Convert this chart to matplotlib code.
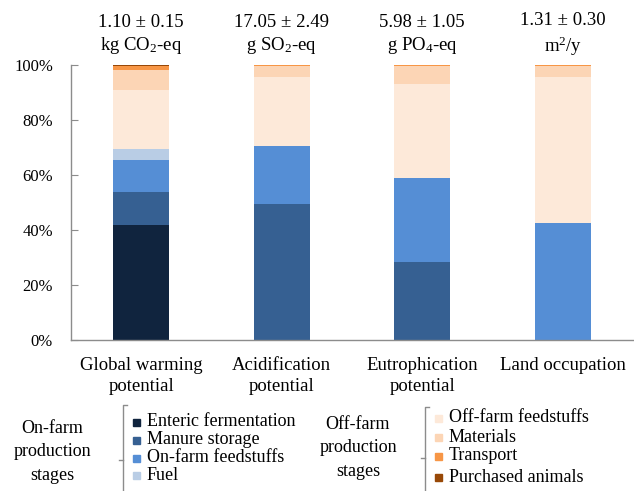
import matplotlib
matplotlib.use("Agg")
import matplotlib.pyplot as plt
import numpy as np
from matplotlib.lines import Line2D
from matplotlib.patches import Rectangle

plt.rcParams["font.family"] = ["Liberation Serif", "DejaVu Serif"]
plt.rcParams["mathtext.fontset"] = "custom"
plt.rcParams["mathtext.rm"] = "Liberation Serif"
plt.rcParams["mathtext.it"] = "Liberation Serif:italic"

# impact categories (x axis)
categories = ["Global warming\npotential", "Acidification\npotential",
              "Eutrophication\npotential", "Land occupation"]
totals = ["1.10 ± 0.15\nkg CO$_2$-eq", "17.05 ± 2.49\ng SO$_2$-eq",
          "5.98 ± 1.05\ng PO$_4$-eq", "1.31 ± 0.30\nm$^2$/y"]

# contribution of each production stage, % of category total
on_farm_stages = ["Enteric fermentation", "Manure storage",
                  "On-farm feedstuffs", "Fuel"]
enteric = [41.7, 0.0, 0.0, 0.0]
manure = [12.0, 49.6, 28.5, 0.0]
onfarm_feed = [11.9, 20.9, 30.5, 42.5]
fuel = [4.0, 0.0, 0.0, 0.0]

off_farm_stages = ["Off-farm feedstuffs", "Materials", "Transport",
                   "Purchased animals"]
offfarm_feed = [21.4, 25.3, 34.2, 53.3]
materials = [7.2, 3.7, 6.3, 3.9]
transport = [1.5, 0.4, 0.4, 0.2]
purchased = [0.3, 0.1, 0.1, 0.1]

on_colors = ["#10243e", "#366092", "#558ed5", "#b9cde5"]
off_colors = ["#fde9d9", "#fcd5b5", "#f79646", "#984807"]

W, H = 634, 491
fig = plt.figure(figsize=(W / 100, H / 100), dpi=100)
ax = fig.add_axes([71 / W, 1 - 340 / H, (633 - 71) / W, 275 / H])

x = np.arange(len(categories))
series = [enteric, manure, onfarm_feed, fuel,
          offfarm_feed, materials, transport, purchased]
colors = on_colors + off_colors
bottom = np.zeros(len(categories))
for vals, c in zip(series, colors):
    vals = np.array(vals)
    ax.bar(x, vals, 0.4, bottom=bottom, color=c, linewidth=0)
    bottom += vals

ax.set_xlim(-0.5, 3.5)
ax.set_ylim(0, 100)
ax.set_yticks(np.arange(0, 101, 20))
ax.set_yticklabels(["%d%%" % v for v in range(0, 101, 20)], fontsize=12)
ax.tick_params(axis="y", direction="in", length=5, color="#8c8c8c", pad=13)
ax.set_xticks(x)
ax.set_xticklabels(categories, fontsize=13.5, linespacing=1.3)
ax.tick_params(axis="x", length=0, pad=12.5)
for s in ("top", "right"):
    ax.spines[s].set_visible(False)
for s in ("left", "bottom"):
    ax.spines[s].set_color("#8c8c8c")
    ax.spines[s].set_linewidth(1.0)

for i, t in enumerate(totals):
    ax.annotate(t, (i, 100), xytext=(0, 30), textcoords="offset pixels",
                ha="center", va="center", fontsize=13.5, linespacing=1.3,
                annotation_clip=False)


# legend below the axes, built in figure pixels
def fx(px):
    return px / W


def fy(py):
    return 1 - py / H


def brace(xb, top, mid):
    kw = dict(color="#8c8c8c", linewidth=1.0, transform=fig.transFigure)
    fig.add_artist(Line2D([fx(xb + 4), fx(xb), fx(xb)],
                          [fy(top), fy(top), fy(H + 2)], **kw))
    fig.add_artist(Line2D([fx(xb - 4), fx(xb)], [fy(mid), fy(mid)], **kw))


def group(label, lx, ly, xb, top, mid, names, cols, sx, rows):
    fig.text(fx(lx), fy(ly), label, ha="center", va="center",
             fontsize=13, linespacing=1.5)
    brace(xb, top, mid)
    for name, c, ry in zip(names, cols, rows):
        fig.add_artist(Rectangle((fx(sx), fy(ry + 3.5)), 7 / W, 7 / H,
                                 color=c, transform=fig.transFigure))
        fig.text(fx(sx + 14), fy(ry), name, ha="left", va="center",
                 fontsize=13)


group("On-farm\nproduction\nstages", 52, 452, 123, 405, 460,
      on_farm_stages, on_colors, 133, [422, 440, 458, 475])
group("Off-farm\nproduction\nstages", 358, 448, 425, 407, 458,
      off_farm_stages, off_colors, 435, [418, 437, 456, 477])

fig.savefig("out.png", dpi=100)
